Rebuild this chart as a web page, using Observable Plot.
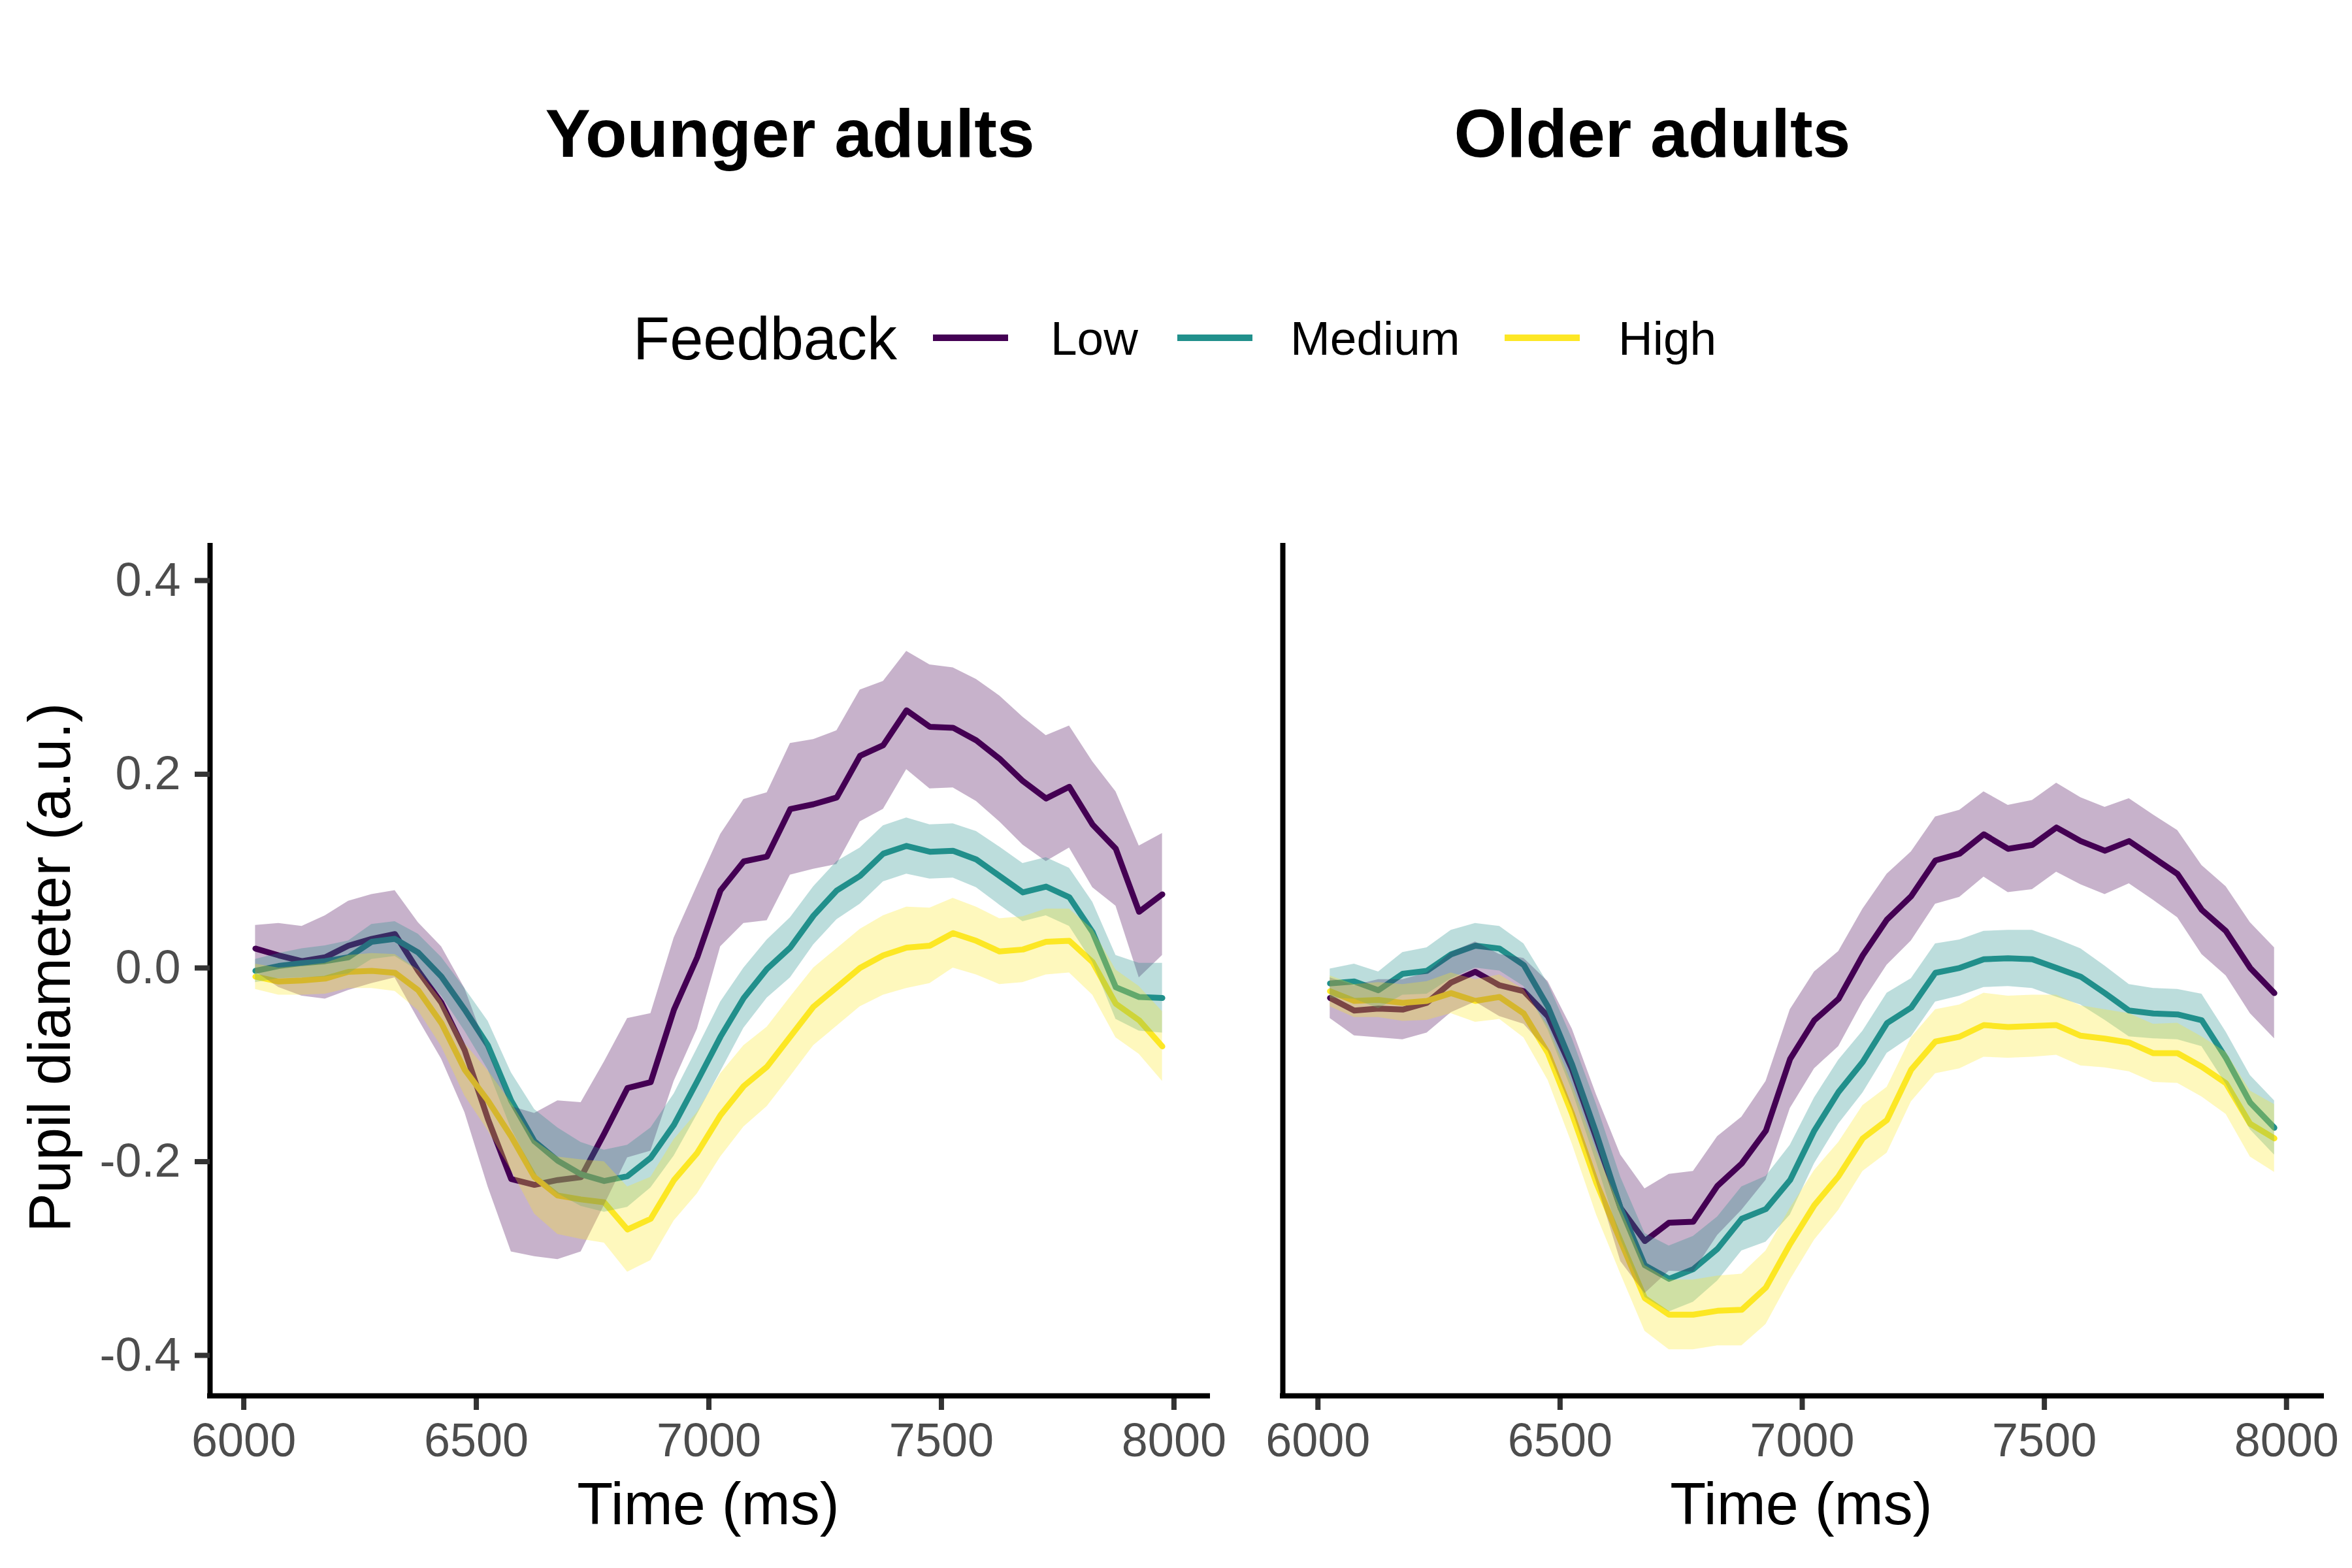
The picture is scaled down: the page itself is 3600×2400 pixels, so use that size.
<!DOCTYPE html>
<html>
<head>
<meta charset="utf-8">
<script src="https://cdn.jsdelivr.net/npm/d3@7"></script>
<script src="https://cdn.jsdelivr.net/npm/@observablehq/plot@0.6"></script>
<style>
  html, body { margin: 0; padding: 0; background: #ffffff; }
  #wrap { position: relative; width: 3600px; height: 2400px; background: #ffffff; overflow: hidden; font-family: "Liberation Sans", Arial, sans-serif; }
  .panel { position: absolute; top: 780px; }
  #overlay { position: absolute; left: 0; top: 0; z-index: 10; pointer-events: none; }
</style>
</head>
<body>
<div id="wrap">
  <div id="left" class="panel" style="left:0px"></div>
  <div id="right" class="panel" style="left:1900px"></div>
</div>
<script>
// ---------------- data ----------------
const time = [6025, 6075, 6125, 6175, 6225, 6275, 6325, 6375, 6425, 6475,
              6525, 6575, 6625, 6675, 6725, 6775, 6825, 6875, 6925, 6975,
              7025, 7075, 7125, 7175, 7225, 7275, 7325, 7375, 7425, 7475,
              7525, 7575, 7625, 7675, 7725, 7775, 7825, 7875, 7925, 7975];

const levels = ["Low", "Medium", "High"];
const levelColors = ["#440154", "#21908C", "#FDE725"];
const panels = ["Younger adults", "Older adults"];
const xTicks = [6000, 6500, 7000, 7500, 8000];
const yTicks = [-0.4, -0.2, 0.0, 0.2, 0.4];

// Younger adults
const youngLowMean = [0.020, 0.013, 0.007, 0.011, 0.023, 0.030, 0.035, -0.003, -0.036, -0.085,
  -0.156, -0.218, -0.224, -0.219, -0.216, -0.171, -0.124, -0.118, -0.043, 0.011,
  0.080, 0.110, 0.115, 0.164, 0.169, 0.176, 0.219, 0.230, 0.266, 0.249,
  0.248, 0.235, 0.216, 0.193, 0.175, 0.187, 0.148, 0.123, 0.058, 0.076];
const youngLowSE = [0.024, 0.033, 0.036, 0.043, 0.046, 0.046, 0.045, 0.050, 0.058, 0.064,
  0.070, 0.075, 0.074, 0.082, 0.077, 0.074, 0.072, 0.071, 0.074, 0.074,
  0.058, 0.064, 0.066, 0.068, 0.067, 0.069, 0.068, 0.066, 0.061, 0.064,
  0.062, 0.063, 0.065, 0.066, 0.065, 0.063, 0.065, 0.059, 0.068, 0.063];

const youngMedMean = [-0.003, 0.002, 0.005, 0.007, 0.011, 0.027, 0.030, 0.016, -0.009, -0.043,
  -0.080, -0.137, -0.179, -0.199, -0.213, -0.220, -0.215, -0.196, -0.162, -0.117,
  -0.071, -0.031, -0.001, 0.021, 0.054, 0.080, 0.095, 0.118, 0.126, 0.120,
  0.121, 0.112, 0.095, 0.078, 0.084, 0.073, 0.037, -0.020, -0.030, -0.031];
const youngMedSE = [0.012, 0.013, 0.015, 0.016, 0.017, 0.018, 0.018, 0.019, 0.020, 0.022,
  0.025, 0.029, 0.033, 0.034, 0.033, 0.032, 0.032, 0.031, 0.032, 0.034,
  0.036, 0.031, 0.030, 0.031, 0.030, 0.030, 0.029, 0.029, 0.029, 0.028,
  0.028, 0.029, 0.030, 0.030, 0.030, 0.030, 0.031, 0.033, 0.035, 0.036];

const youngHighMean = [-0.009, -0.014, -0.013, -0.011, -0.004, -0.003, -0.005, -0.023, -0.057, -0.105,
  -0.137, -0.174, -0.216, -0.235, -0.239, -0.242, -0.270, -0.259, -0.219, -0.191,
  -0.152, -0.122, -0.102, -0.071, -0.040, -0.020, 0.000, 0.013, 0.021, 0.023,
  0.036, 0.028, 0.017, 0.019, 0.027, 0.028, 0.006, -0.037, -0.054, -0.081];
const youngHighSE = [0.013, 0.014, 0.015, 0.016, 0.017, 0.018, 0.019, 0.021, 0.024, 0.027,
  0.031, 0.035, 0.038, 0.040, 0.041, 0.042, 0.044, 0.043, 0.042, 0.042,
  0.043, 0.042, 0.041, 0.041, 0.040, 0.040, 0.040, 0.041, 0.042, 0.039,
  0.036, 0.035, 0.034, 0.034, 0.034, 0.033, 0.034, 0.035, 0.035, 0.036];

// Older adults
const olderLowMean = [-0.031, -0.044, -0.042, -0.043, -0.036, -0.015, -0.004, -0.018, -0.024, -0.050,
  -0.105, -0.176, -0.248, -0.282, -0.263, -0.262, -0.225, -0.202, -0.168, -0.094,
  -0.054, -0.032, 0.013, 0.050, 0.074, 0.111, 0.118, 0.138, 0.123, 0.127,
  0.145, 0.131, 0.121, 0.131, 0.114, 0.097, 0.060, 0.038, 0.000, -0.026];
const olderLowSE = [0.021, 0.026, 0.030, 0.031, 0.031, 0.031, 0.031, 0.032, 0.034, 0.036,
  0.042, 0.045, 0.055, 0.054, 0.050, 0.052, 0.051, 0.048, 0.051, 0.051,
  0.050, 0.049, 0.048, 0.047, 0.046, 0.045, 0.045, 0.044, 0.045, 0.046,
  0.046, 0.045, 0.045, 0.044, 0.044, 0.045, 0.046, 0.046, 0.047, 0.047];

const olderMedMean = [-0.016, -0.014, -0.023, -0.006, -0.003, 0.014, 0.023, 0.020, 0.003, -0.040,
  -0.100, -0.171, -0.248, -0.307, -0.321, -0.311, -0.290, -0.259, -0.249, -0.219,
  -0.168, -0.128, -0.097, -0.057, -0.041, -0.005, 0.000, 0.009, 0.010, 0.009,
  0.000, -0.009, -0.026, -0.044, -0.047, -0.048, -0.054, -0.093, -0.139, -0.165];
const olderMedSE = [0.015, 0.018, 0.019, 0.022, 0.024, 0.025, 0.023, 0.023, 0.022, 0.024,
  0.027, 0.030, 0.032, 0.033, 0.034, 0.034, 0.033, 0.033, 0.034, 0.036,
  0.034, 0.033, 0.032, 0.031, 0.030, 0.030, 0.029, 0.029, 0.029, 0.030,
  0.030, 0.029, 0.028, 0.027, 0.026, 0.026, 0.027, 0.027, 0.028, 0.028];

const olderHighMean = [-0.024, -0.034, -0.033, -0.036, -0.034, -0.026, -0.034, -0.030, -0.047, -0.088,
  -0.151, -0.222, -0.282, -0.341, -0.358, -0.358, -0.354, -0.353, -0.330, -0.285,
  -0.245, -0.215, -0.176, -0.157, -0.105, -0.076, -0.071, -0.059, -0.061, -0.060,
  -0.059, -0.070, -0.073, -0.077, -0.088, -0.088, -0.102, -0.119, -0.161, -0.176];
const olderHighSE = [0.016, 0.017, 0.018, 0.019, 0.020, 0.021, 0.022, 0.023, 0.025, 0.028,
  0.031, 0.033, 0.034, 0.034, 0.036, 0.036, 0.036, 0.037, 0.038, 0.037,
  0.036, 0.035, 0.034, 0.034, 0.033, 0.033, 0.033, 0.033, 0.032, 0.032,
  0.031, 0.031, 0.030, 0.030, 0.030, 0.031, 0.031, 0.032, 0.034, 0.035];

// ---------------- build tables ----------------
function buildRows(means, ses) {
  const rows = [];
  levels.forEach((lvl, li) => {
    time.forEach((t, i) => {
      rows.push({time: t, level: lvl, mean: means[li][i], lo: means[li][i] - ses[li][i], hi: means[li][i] + ses[li][i]});
    });
  });
  return rows;
}
const youngRows = buildRows([youngLowMean, youngMedMean, youngHighMean], [youngLowSE, youngMedSE, youngHighSE]);
const olderRows = buildRows([olderLowMean, olderMedMean, olderHighMean], [olderLowSE, olderMedSE, olderHighSE]);

const xDomain = [5927.5, 8072.5];
const yDomain = [-0.4418, 0.4385];
const FONT = "Liberation Sans, Arial, sans-serif";

function makePanel(rows, width, marginLeft, marginRight, showY) {
  const marks = [
    Plot.line(rows, {x: "time", y: "mean", stroke: "level", z: "level", strokeWidth: 9, strokeLinejoin: "round"}),
    Plot.areaY(rows, {x: "time", y1: "lo", y2: "hi", fill: "level", z: "level", fillOpacity: 0.3}),
    Plot.axisX({ticks: xTicks, tickFormat: d => String(d), tickSize: 22, tickPadding: 19,
      fontSize: 72, fill: "#4d4d4d", stroke: "#333333", strokeWidth: 8, textStroke: "none", label: null}),
    Plot.ruleY([yDomain[0]], {stroke: "#000000", strokeWidth: 8, strokeLinecap: "square"}),
    Plot.ruleX([xDomain[0]], {stroke: "#000000", strokeWidth: 8})
  ];
  if (showY) {
    marks.push(Plot.axisY({ticks: yTicks, tickFormat: d => d.toFixed(1), tickSize: 23, tickPadding: 22,
      fontSize: 72, fill: "#4d4d4d", stroke: "#333333", strokeWidth: 8, textStroke: "none", label: null}));
  }
  return Plot.plot({
    width: width,
    height: 1620,
    marginLeft: marginLeft,
    marginRight: marginRight,
    marginTop: 51,
    marginBottom: 264,
    style: {fontFamily: FONT, background: "transparent", overflow: "visible"},
    x: {domain: xDomain},
    y: showY ? {domain: yDomain} : {domain: yDomain, axis: null},
    color: {domain: levels, range: levelColors},
    marks: marks
  });
}

document.getElementById("left").appendChild(makePanel(youngRows, 1900, 321, 52, true));
document.getElementById("right").appendChild(makePanel(olderRows, 1700, 63, 47, false));

// ---------------- text overlay: titles, legend, axis titles ----------------
const svg = d3.select("#wrap").append("svg")
  .attr("id", "overlay").attr("width", 3600).attr("height", 2400)
  .attr("font-family", FONT);

svg.append("text").attr("x", 1209).attr("y", 240).attr("text-anchor", "middle")
  .attr("font-size", 104).attr("font-weight", "bold").attr("fill", "#000").text(panels[0]);
svg.append("text").attr("x", 2529).attr("y", 240).attr("text-anchor", "middle")
  .attr("font-size", 104).attr("font-weight", "bold").attr("fill", "#000").text(panels[1]);

// legend
svg.append("text").attr("x", 969).attr("y", 550).attr("font-size", 92).attr("fill", "#000").text("Feedback");
const keyX = [1428, 1802, 2303];
const labX = [1608, 1975, 2477];
levels.forEach((lvl, i) => {
  svg.append("line").attr("x1", keyX[i]).attr("x2", keyX[i] + 115).attr("y1", 517).attr("y2", 517)
    .attr("stroke", levelColors[i]).attr("stroke-width", 10);
  svg.append("text").attr("x", labX[i]).attr("y", 543).attr("font-size", 73).attr("fill", "#000").text(lvl);
});

// axis titles
svg.append("text").attr("x", 1084).attr("y", 2333).attr("text-anchor", "middle")
  .attr("font-size", 90).attr("fill", "#000").text("Time (ms)");
svg.append("text").attr("x", 2757).attr("y", 2333).attr("text-anchor", "middle")
  .attr("font-size", 90).attr("fill", "#000").text("Time (ms)");
svg.append("text").attr("transform", "translate(107,1481) rotate(-90)").attr("text-anchor", "middle")
  .attr("font-size", 90).attr("fill", "#000").text("Pupil diameter (a.u.)");
</script>
</body>
</html>
